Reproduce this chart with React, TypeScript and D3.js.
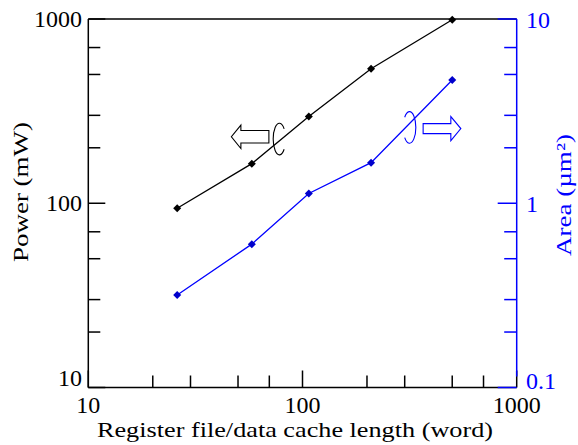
import React from 'react';
import * as d3 from 'd3';

// register file / data cache length (word)
const lengths = [26, 58, 107, 209, 500];
// power (mW), left axis
const powerMW = [94, 164, 296, 537, 990];
// area (um^2), right axis
const areaUm2 = [0.318, 0.6, 1.13, 1.66, 4.67];

const xMajor = [10, 100, 1000];
const powerMajor = [10, 100, 1000];
const areaMajor = [0.1, 1, 10];

const W = 578;
const H = 445;
const FONT = "'Liberation Serif', 'Times New Roman', Times, 'DejaVu Serif', serif";
const BLUE = '#0000ff';

const x = d3.scaleLog().domain([10, 1000]).range([88.3, 516.7]);
const yP = d3.scaleLog().domain([10, 1000]).range([387.5, 19]);
const yA = d3.scaleLog().domain([0.1, 10]).range([387.5, 19]);

// minor ticks at 2, 3, 5, 7 of each decade
const minors = (s: d3.ScaleLogarithmic<number, number>) =>
  s.ticks().filter(v => {
    const d = Math.round(v / Math.pow(10, Math.floor(Math.log10(v) + 1e-9)));
    return [2, 3, 5, 7].includes(d);
  });

const diamond = (cx: number, cy: number, r = 4) =>
  `M${cx},${cy - r}L${cx + r},${cy}L${cx},${cy + r}L${cx - r},${cy}Z`;

// hollow block arrow, dir -1 = left, 1 = right
const arrow = (tail: number, cy: number, dir: number, len = 37.5, head = 10, sh = 5.5, hh = 12) => {
  const tip = tail + dir * len;
  const back = tip - dir * head;
  return `M${tail},${cy - sh}L${back},${cy - sh}L${back},${cy - hh}L${tip},${cy}L${back},${cy + hh}L${back},${cy + sh}L${tail},${cy + sh}Z`;
};

// open ellipse, gap on the right (side=1) or left (side=-1)
const loop = (cx: number, cy: number, side: number, rx = 6.2, ry = 15.8) => {
  const a = (40 * Math.PI) / 180;
  const sx = cx + side * rx * Math.cos(a);
  const dy = ry * Math.sin(a);
  return `M${sx},${cy - dy}A${rx},${ry} 0 1 ${side > 0 ? 0 : 1} ${sx},${cy + dy}`;
};

export default function App() {
  const linePower = d3.line<number>().x((_, i) => x(lengths[i])).y(d => yP(d));
  const lineArea = d3.line<number>().x((_, i) => x(lengths[i])).y(d => yA(d));

  const [x0, x1] = x.range();
  const [yb, yt] = yP.range();

  // annotation anchors (data coordinates)
  const bx = x(78), by = yP(223);
  const ux = x(316), uy = yA(2.58);

  return (
    <svg width={W} height={H} style={{ position: 'absolute', left: 0, top: 0, display: 'block', background: '#fff', fontFamily: FONT }}>
      {/* frame */}
      <line x1={x0} x2={x1} y1={yt} y2={yt} stroke="#000" strokeWidth={1.5} />
      <line x1={x0} x2={x1} y1={yb} y2={yb} stroke="#000" strokeWidth={1.5} />
      <line x1={x0} x2={x0} y1={yt} y2={yb} stroke="#000" strokeWidth={1.5} />

      {/* left ticks */}
      {powerMajor.map(v => (
        <line key={'pm' + v} x1={x0} x2={x0 + 17} y1={yP(v)} y2={yP(v)} stroke="#000" strokeWidth={1.5} />
      ))}
      {minors(yP).map(v => (
        <line key={'pn' + v} x1={x0} x2={x0 + 12} y1={yP(v)} y2={yP(v)} stroke="#000" strokeWidth={1.5} />
      ))}
      {powerMajor.map(v => (
        <text key={'pl' + v} x={82} y={Math.min(yP(v) + 8, 386)} textAnchor="end" fontSize={24}>{v}</text>
      ))}

      {/* bottom ticks */}
      {xMajor.map(v => (
        <line key={'xm' + v} x1={x(v)} x2={x(v)} y1={yb} y2={yb - 17} stroke="#000" strokeWidth={1.5} />
      ))}
      {minors(x).map(v => (
        <line key={'xn' + v} x1={x(v)} x2={x(v)} y1={yb} y2={yb - 12} stroke="#000" strokeWidth={1.5} />
      ))}
      {xMajor.map(v => (
        <text key={'xl' + v} x={x(v)} y={413} textAnchor="middle" fontSize={24}>{v}</text>
      ))}

      {/* right axis */}
      <line x1={x1} x2={x1} y1={yt} y2={yb - 11} stroke={BLUE} strokeWidth={1.5} />
      {areaMajor.map(v => (
        <line key={'am' + v} x1={x1} x2={x1 - 19} y1={yA(v)} y2={yA(v)} stroke={BLUE} strokeWidth={1.5} />
      ))}
      {minors(yA).map(v => (
        <line key={'an' + v} x1={x1} x2={x1 - 12.5} y1={yA(v)} y2={yA(v)} stroke={BLUE} strokeWidth={1.5} />
      ))}
      {areaMajor.map(v => (
        <text key={'al' + v} x={526} y={Math.min(yA(v) + 8.5, 389)} fill={BLUE} fontSize={24}>{v}</text>
      ))}

      {/* axis titles */}
      <text x={295} y={437} textAnchor="middle" fontSize={21} textLength={396} lengthAdjust="spacingAndGlyphs">
        Register file/data cache length (word)
      </text>
      <text transform="translate(28,192) rotate(-90)" textAnchor="middle" fontSize={21} textLength={140}
        lengthAdjust="spacingAndGlyphs">Power (mW)</text>
      <text transform="translate(571,195) rotate(-90)" textAnchor="middle" fontSize={21} fill={BLUE} textLength={122}
        lengthAdjust="spacingAndGlyphs">Area (µm²)</text>

      {/* series */}
      <path d={linePower(powerMW) ?? ''} fill="none" stroke="#000" strokeWidth={1.3} />
      {powerMW.map((v, i) => (
        <path key={'pp' + i} d={diamond(x(lengths[i]), yP(v))} fill="#000" />
      ))}
      <path d={lineArea(areaUm2) ?? ''} fill="none" stroke={BLUE} strokeWidth={1.3} />
      {areaUm2.map((v, i) => (
        <path key={'ap' + i} d={diamond(x(lengths[i]), yA(v))} fill="#0000cc" />
      ))}

      {/* annotations */}
      <path d={loop(bx, by, 1)} fill="none" stroke="#000" strokeWidth={1.1} />
      <path d={arrow(bx - 10.5, by - 2.3, -1, 37.5, 9.5, 6.2, 11.7)} fill="#fff" stroke="#000" strokeWidth={1.1} />
      <path d={loop(ux, uy, -1, 6.3)} fill="none" stroke={BLUE} strokeWidth={1.1} />
      <path d={arrow(ux + 13.6, uy + 1.2, 1, 37.7, 10, 5, 12)} fill="#fff" stroke={BLUE} strokeWidth={1.1} />
    </svg>
  );
}
